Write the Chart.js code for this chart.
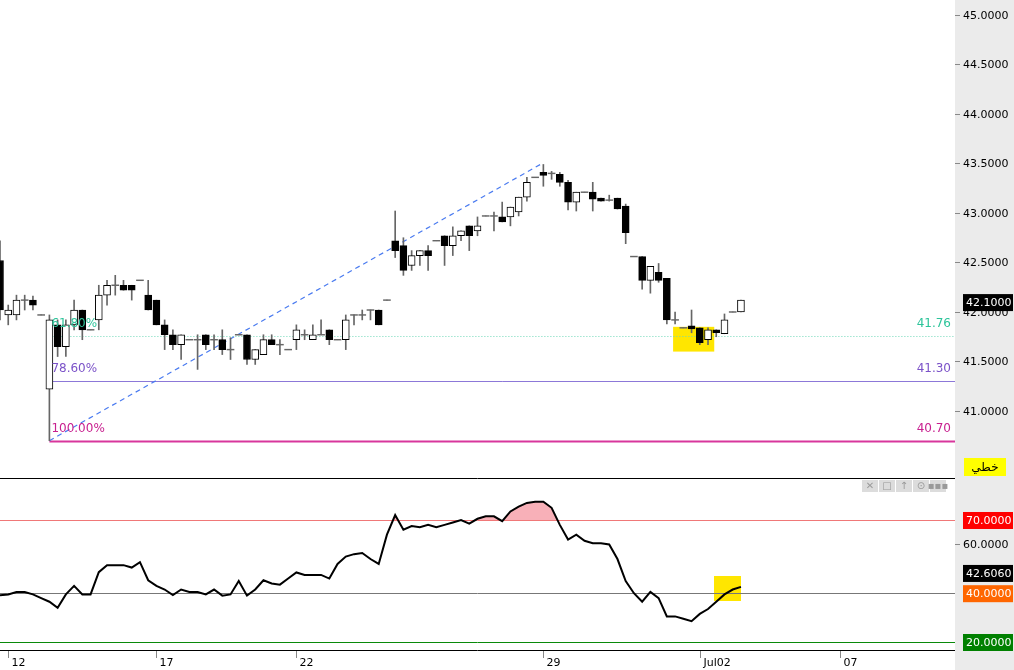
<!DOCTYPE html>
<html><head><meta charset="utf-8">
<script src="https://cdn.jsdelivr.net/npm/chart.js@4/dist/chart.umd.min.js"></script>
<style>
html,body{margin:0;padding:0;background:#fff;width:1014px;height:670px;overflow:hidden}
canvas{position:absolute;left:0}
#c1{top:0}#c2{top:478px}
</style></head><body>
<canvas id="c1" width="1014" height="478"></canvas>
<canvas id="c2" width="1014" height="192"></canvas>
<script>
const opens  = [42.52,41.97,41.97,42.12,42.12,41.97,41.22,41.87,41.65,41.87,42.02,41.82,41.92,42.17,42.27,42.27,42.27,42.32,42.17,42.12,41.87,41.77,41.67,41.72,41.72,41.77,41.72,41.72,41.62,41.77,41.77,41.52,41.57,41.72,41.67,41.62,41.72,41.77,41.72,41.77,41.82,41.72,41.72,41.97,41.97,42.02,42.02,42.12,42.72,42.67,42.47,42.57,42.62,42.72,42.77,42.67,42.77,42.87,42.82,42.97,42.97,42.96,42.96,43.01,43.16,43.36,43.41,43.40,43.39,43.31,43.11,43.21,43.21,43.15,43.13,43.15,43.07,42.56,42.56,42.32,42.40,42.34,41.92,41.84,41.86,41.84,41.72,41.82,41.78,42.00,42.00];
const highs  = [42.72,42.07,42.17,42.17,42.16,41.97,41.97,41.92,41.92,42.12,42.02,41.82,42.27,42.32,42.37,42.32,42.27,42.32,42.32,42.12,41.92,41.82,41.77,41.72,41.77,41.77,41.77,41.82,41.74,41.77,41.77,41.62,41.77,41.77,41.72,41.62,41.87,41.82,41.87,41.92,41.82,41.72,41.97,41.97,42.02,42.02,42.02,42.12,43.02,42.75,42.62,42.62,42.67,42.72,42.77,42.86,42.82,42.87,42.96,42.97,43.01,43.11,43.06,43.16,43.36,43.36,43.49,43.42,43.41,43.33,43.21,43.21,43.31,43.15,43.18,43.15,43.09,42.56,42.56,42.46,42.49,42.34,42.00,41.84,42.02,41.84,41.84,41.82,41.98,42.00,42.12];
const lows   = [41.92,41.87,41.92,42.02,42.02,41.97,40.70,41.55,41.55,41.82,41.72,41.82,41.82,42.07,42.17,42.22,42.12,42.32,42.02,41.87,41.62,41.62,41.52,41.72,41.42,41.62,41.62,41.57,41.52,41.77,41.47,41.47,41.57,41.67,41.57,41.62,41.62,41.72,41.72,41.77,41.67,41.72,41.62,41.87,41.92,41.92,41.87,42.12,42.55,42.37,42.42,42.47,42.42,42.72,42.47,42.57,42.72,42.62,42.77,42.97,42.82,42.91,42.87,42.97,43.12,43.36,43.27,43.34,43.27,43.03,43.02,43.21,43.02,43.12,43.12,43.04,42.69,42.56,42.23,42.19,42.30,41.88,41.88,41.84,41.79,41.67,41.67,41.75,41.78,42.00,42.00];
const closes = [42.02,42.02,42.12,42.12,42.07,41.97,41.92,41.65,41.87,42.02,41.82,41.82,42.17,42.27,42.27,42.22,42.22,42.32,42.02,41.87,41.77,41.67,41.77,41.72,41.72,41.67,41.72,41.62,41.62,41.77,41.52,41.62,41.72,41.67,41.67,41.62,41.82,41.77,41.77,41.77,41.72,41.72,41.92,41.97,41.97,42.02,41.87,42.12,42.62,42.42,42.57,42.62,42.57,42.72,42.67,42.77,42.82,42.77,42.87,42.97,42.97,42.91,43.06,43.16,43.31,43.36,43.38,43.40,43.31,43.11,43.21,43.21,43.14,43.12,43.13,43.04,42.80,42.56,42.32,42.46,42.32,41.92,41.92,41.84,41.83,41.69,41.82,41.79,41.92,42.00,42.12];
const rsiValues = [39.2,39.5,40.5,40.5,39.5,38,36.5,34,39.5,43,39.5,39.5,48.6,51.5,51.5,51.5,50.5,52.7,45.3,43,41.5,39.2,41.5,40.5,40.5,39.5,41.5,39,39.5,45,39,41.5,45.3,44,43.5,46,48.5,47.5,47.5,47.5,46,52,55,56,56.5,54,52,64,72,66,67.5,67,68,67,68,69,70,68.5,70.5,71.5,71.5,69.5,73.5,75.5,77,77.5,77.5,75,68,62,64,61.5,60.5,60.5,60,54,45,40,36.5,40.5,38,30.5,30.5,29.5,28.5,31.5,33.5,36.5,39.5,41.5,42.606];
const dateLabels = {1:'12',19:'17',36:'22',66:'29',85:'Jul02',102:'07'};
const priceTicks = [41.0,41.5,42.0,42.5,43.0,43.5,44.0,44.5,45.0];
const fibLevels = [41.76,41.30,40.70];
const fibNames = ['61.80%','78.60%','100.00%'];
const rsiLevels = [70,40,20];
const NSLOTS = 117;
const labels = Array.from({length:NSLOTS},(_,i)=>i);
const FONT = '11px "DejaVu Sans"';

const wickData = lows.map((l,i)=>[l,highs[i]]);
const isDoji = opens.map((o,i)=>Math.abs(o-closes[i])<0.02);
const bodyData = opens.map((o,i)=>{const c=closes[i];return isDoji[i]?[Math.min(o,c)-0.004,Math.max(o,c)+0.004]:[Math.min(o,c),Math.max(o,c)];});
const bodyBg = opens.map((o,i)=>isDoji[i]?'#666':(closes[i]<o?'#000':'#fff'));
const bodyBorder = opens.map((o,i)=>isDoji[i]?'#666':'#000');

function axisPanel(ctx,chart){
  ctx.save();ctx.fillStyle='#ebebeb';ctx.fillRect(955,0,59,chart.height);ctx.restore();
}
function box(ctx,y,text,bg,fg){
  ctx.fillStyle=bg;ctx.fillRect(963,y-8,50,17);
  ctx.fillStyle=fg;ctx.textAlign='left';ctx.textBaseline='middle';ctx.fillText(text,966,y+1);
}

const topPlugin={id:'top',
 beforeDraw(chart){axisPanel(chart.ctx,chart);},
 beforeDatasetsDraw(chart){
  const ctx=chart.ctx,x=chart.scales.x,y=chart.scales.y;
  ctx.save();
  ctx.fillStyle='#ffe600';
  const xa=x.getPixelForValue(82)-2,xb=x.getPixelForValue(87)-2;
  ctx.fillRect(xa,y.getPixelForValue(41.85),xb-xa,y.getPixelForValue(41.60)-y.getPixelForValue(41.85));
  const x0=x.getPixelForValue(6);
  const cols=['#6fd8b8','#8c78d8','#d8369c'];
  fibLevels.forEach((v,k)=>{
    const py=Math.round(y.getPixelForValue(v))+0.5;
    ctx.beginPath();ctx.strokeStyle=cols[k];ctx.lineWidth=k==2?2:1;
    ctx.setLineDash(k==0?[1,2]:[]);
    ctx.moveTo(x0,py);ctx.lineTo(955,py);ctx.stroke();
  });
  ctx.beginPath();ctx.strokeStyle='#4a7bf0';ctx.lineWidth=1.2;ctx.setLineDash([5,4]);
  ctx.moveTo(x0,y.getPixelForValue(40.70));ctx.lineTo(x.getPixelForValue(66)-3,y.getPixelForValue(43.49));ctx.stroke();
  ctx.restore();
 },
 afterDatasetsDraw(chart){
  const ctx=chart.ctx,x=chart.scales.x,y=chart.scales.y;
  const x0=x.getPixelForValue(6);
  const tcols=['#2cc49a','#7b52c8','#c8208f'];
  ctx.save();ctx.font='12px "DejaVu Sans"';ctx.textBaseline='middle';
  fibLevels.forEach((v,k)=>{
    const py=y.getPixelForValue(v)-12;
    ctx.fillStyle=tcols[k];ctx.textAlign='left';ctx.fillText(fibNames[k],x0+2,py);
    ctx.textAlign='right';ctx.fillText(v.toFixed(2),951,py);
  });
  ctx.restore();
 },
 afterDraw(chart){
  const ctx=chart.ctx,y=chart.scales.y;
  ctx.save();ctx.font=FONT;ctx.strokeStyle='#888';
  priceTicks.forEach(v=>{
    const py=Math.round(y.getPixelForValue(v))+0.5;
    ctx.beginPath();ctx.moveTo(955,py);ctx.lineTo(960,py);ctx.stroke();
    ctx.fillStyle='#000';ctx.textAlign='left';ctx.textBaseline='middle';ctx.fillText(v.toFixed(4),963,py+1);
  });
  box(ctx,y.getPixelForValue(42.10),'42.1000','#000','#fff');
  ctx.fillStyle='#ffff00';ctx.fillRect(964,458,42,18);
  ctx.fillStyle='#000';ctx.textAlign='center';ctx.font='12px "DejaVu Sans"';ctx.fillText('خطي',985,468);
  ctx.restore();
 }};

new Chart(document.getElementById('c1'),{
 type:'bar',
 data:{labels,datasets:[
  {data:wickData,backgroundColor:'#666',barThickness:1,grouped:false,order:2},
  {data:bodyData,backgroundColor:bodyBg,borderColor:bodyBorder,borderWidth:opens.map((o,i)=>isDoji[i]?0:1),borderSkipped:false,barThickness:7,grouped:false,order:1}
 ]},
 options:{responsive:false,animation:false,devicePixelRatio:1,
  layout:{padding:{left:0,right:59,top:0,bottom:0}},
  plugins:{legend:{display:false},tooltip:{enabled:false}},
  scales:{x:{display:false,offset:false},y:{display:false,min:40.323,max:45.1515}}},
 plugins:[topPlugin]});

const botPlugin={id:'bot',
 beforeDraw(chart){
  const ctx=chart.ctx;axisPanel(ctx,chart);
  ctx.save();ctx.fillStyle='#ffe600';ctx.fillRect(714,98,27,25);ctx.restore();
 },
 beforeDatasetsDraw(chart){
  const ctx=chart.ctx,y=chart.scales.y;
  const cols=['#f07878','#777','#0a8a0a'];
  ctx.save();
  rsiLevels.forEach((v,k)=>{
    const py=Math.round(y.getPixelForValue(v))+0.5;
    ctx.beginPath();ctx.strokeStyle=cols[k];ctx.lineWidth=1;ctx.moveTo(0,py);ctx.lineTo(955,py);ctx.stroke();
  });
  ctx.restore();
 },
 afterDraw(chart){
  const ctx=chart.ctx,y=chart.scales.y,x=chart.scales.x;
  ctx.save();
  ctx.strokeStyle='#000';ctx.lineWidth=1;
  ctx.beginPath();ctx.moveTo(0,0.5);ctx.lineTo(955,0.5);ctx.stroke();
  ctx.beginPath();ctx.moveTo(0,172.5);ctx.lineTo(955,172.5);ctx.stroke();
  ctx.font='10px "DejaVu Sans"';ctx.textAlign='center';ctx.textBaseline='middle';
  ['✕','□','↑','⊙','▪▪▪'].forEach((s,k)=>{
    const bx=862+k*17;ctx.fillStyle='#dcdcdc';ctx.fillRect(bx,2,16,12);
    ctx.fillStyle='#9a9a9a';ctx.fillText(s,bx+8,8);
  });
  ctx.font=FONT;
  const py60=Math.round(y.getPixelForValue(60))+0.5;
  ctx.strokeStyle='#888';ctx.beginPath();ctx.moveTo(955,py60);ctx.lineTo(960,py60);ctx.stroke();
  ctx.fillStyle='#000';ctx.textAlign='left';ctx.fillText('60.0000',963,py60+1);
  box(ctx,y.getPixelForValue(70),'70.0000','#ff0000','#fff');
  box(ctx,y.getPixelForValue(48.3),'42.6060','#000','#fff');
  box(ctx,y.getPixelForValue(40),'40.0000','#ff6600','#fff');
  box(ctx,y.getPixelForValue(20),'20.0000','#008000','#fff');
  ctx.fillStyle='#000';ctx.textAlign='left';
  Object.entries(dateLabels).forEach(([i,t])=>{
    const px=Math.round(x.getPixelForValue(+i))+0.5;
    ctx.strokeStyle='#888';ctx.beginPath();ctx.moveTo(px,173);ctx.lineTo(px,180);ctx.stroke();
    ctx.fillText(t,px+3,185);
  });
  ctx.restore();
 }};

new Chart(document.getElementById('c2'),{
 type:'line',
 data:{labels,datasets:[{data:rsiValues,borderColor:'#000',borderWidth:2,pointRadius:0,tension:0,
   fill:{target:{value:70},above:'rgba(245,150,160,0.75)',below:'rgba(0,0,0,0)'}}]},
 options:{responsive:false,animation:false,devicePixelRatio:1,
  layout:{padding:{left:0,right:59,top:2,bottom:20}},
  plugins:{legend:{display:false},tooltip:{enabled:false}},
  scales:{x:{display:false,offset:false},y:{display:false,min:16.72,max:86.39}}},
 plugins:[botPlugin]});
</script></body></html>
